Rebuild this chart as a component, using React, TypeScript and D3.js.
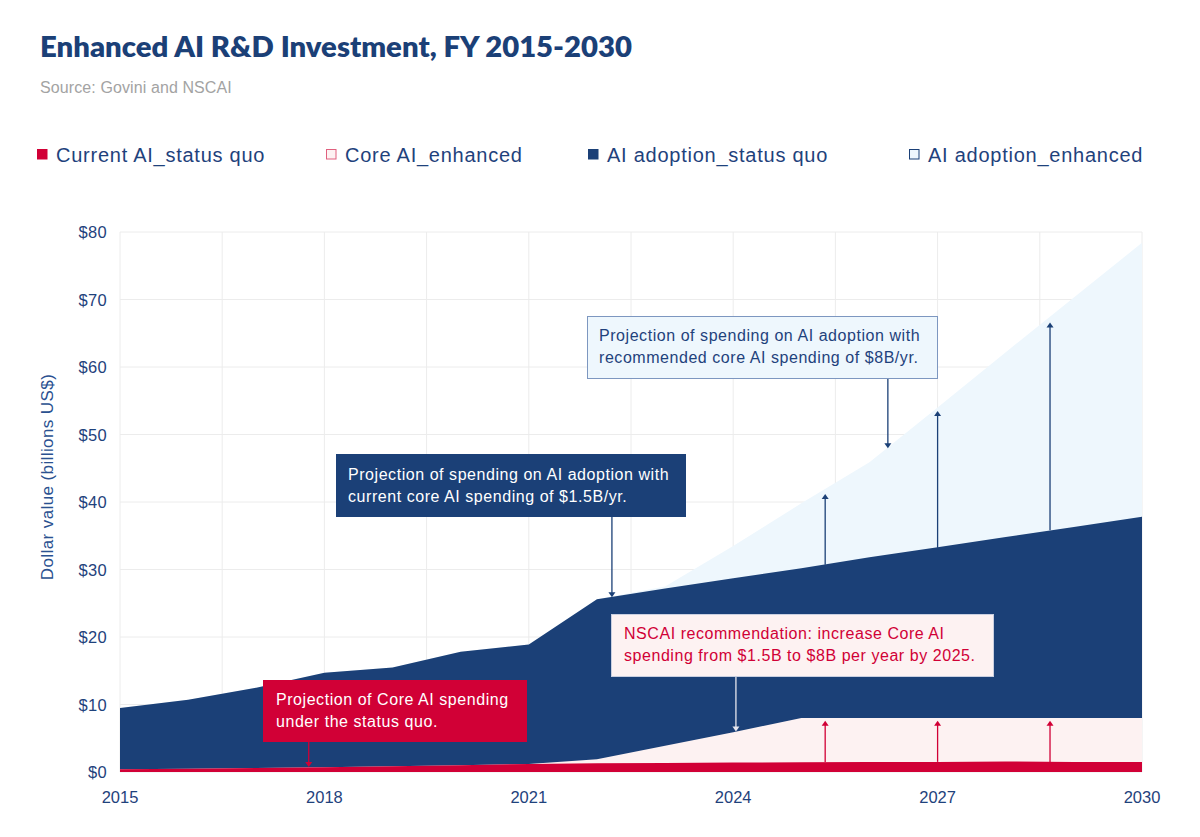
import React from "react";
import * as d3 from "d3";

const years = [2015, 2016, 2017, 2018, 2019, 2020, 2021, 2022, 2023, 2024, 2025, 2026, 2027, 2028, 2029, 2030];
const currentAIStatusQuo = [0.4, 0.5, 0.6, 0.7, 0.85, 1.0, 1.2, 1.3, 1.35, 1.4, 1.45, 1.5, 1.5, 1.55, 1.5, 1.5];
const coreAIEnhanced = [0.4, 0.5, 0.6, 0.7, 0.85, 1.0, 1.2, 1.9, 3.9, 5.9, 8, 8, 8, 8, 8, 8];
const aiAdoptionStatusQuo = [9.5, 10.7, 12.5, 14.7, 15.5, 17.8, 18.9, 25.6, 27.2, 28.7, 30.2, 31.8, 33.3, 34.8, 36.3, 37.8];
const aiAdoptionEnhanced = [9.5, 10.7, 12.5, 14.7, 15.5, 17.8, 18.9, 25.6, 27.5, 33.5, 39.8, 45.9, 54.0, 62.2, 70.3, 78.4];

const yTicks = [0, 10, 20, 30, 40, 50, 60, 70, 80];
const xTicks = [2015, 2018, 2021, 2024, 2027, 2030];
const xGrid = [2015, 2016.5, 2018, 2019.5, 2021, 2022.5, 2024, 2025.5, 2027, 2028.5, 2030];

const legendLabels = ["Current AI_status quo", "Core AI_enhanced", "AI adoption_status quo", "AI adoption_enhanced"];

// arrows showing the gap (years, from, to)
const gapArrowYears = [2025.35, 2027, 2028.65];
const adoptionGapFrom = [30.7, 33.2, 35.8];
const adoptionGapTo = [41.2, 53.5, 66.6];
const coreGapFrom = [1.5, 1.5, 1.5];
const coreGapTo = [7.6, 7.6, 7.6];

const DARK = "#1b4077";
const RED = "#d10036";
const PINK = "#fdf2f2";
const LIGHT = "#eef7fd";
const TEXT = "#1f427c";
const GRID = "#ececec";

const FONT = "'Liberation Sans', Arial, sans-serif";

export default function App() {
  const x = d3.scaleLinear().domain([2015, 2030]).range([120, 1142]);
  const y = d3.scaleLinear().domain([0, 80]).range([772, 232]);

  const mk = (vals: number[]) =>
    d3
      .area<number>()
      .x((_, i) => x(years[i]))
      .y0(y(0))
      .y1((d) => y(d))
      .curve(d3.curveLinear)(vals) as string;

  const arrowHead = (cx: number, cy: number, dir: "up" | "down", color: string, key: string) => {
    const s = dir === "up" ? 1 : -1;
    return (
      <path
        key={key}
        d={`M${cx - 3.5},${cy + 5 * s} L${cx},${cy} L${cx + 3.5},${cy + 5 * s} Z`}
        fill={color}
      />
    );
  };

  const vArrow = (xv: number, y1: number, y2: number, color: string, key: string, width = 1.3) => {
    const dir = y2 < y1 ? "up" : "down";
    return (
      <g key={key}>
        <line x1={xv} x2={xv} y1={y1} y2={dir === "up" ? y2 + 3 : y2 - 3} stroke={color} strokeWidth={width} />
        {arrowHead(xv, y2, dir, color, key + "h")}
      </g>
    );
  };

  const legendX = [37, 326, 588, 909];
  const legendFill = [RED, PINK, DARK, LIGHT];
  const legendStroke = [RED, "#e0607e", DARK, DARK];

  const annoSize = 16;
  const annoSpacing = 0.55;

  return (
    <svg
      width={1200}
      height={837}
      style={{ position: "absolute", left: 0, top: 0, background: "#fff" }}
      fontFamily={FONT}
    >
      <rect x={0} y={0} width={1200} height={837} fill="#fff" />
      <text
        x={40}
        y={57}
        fill={DARK}
        fontFamily="Lato, 'Open Sans', sans-serif"
        fontWeight={800}
        fontSize={29}
        textLength={592}
        lengthAdjust="spacingAndGlyphs"
      >
        Enhanced AI R&amp;D Investment, FY 2015-2030
      </text>
      <text x={40} y={93} fill="#a3a3a3" fontSize={16} letterSpacing={0.1}>
        Source: Govini and NSCAI
      </text>

      {legendLabels.map((l, i) => (
        <g key={l}>
          <rect
            x={legendX[i] + 0.5}
            y={149.5}
            width={9.5}
            height={9.5}
            fill={legendFill[i]}
            stroke={legendStroke[i]}
            strokeWidth={1}
          />
          <text x={legendX[i] + 19} y={161.5} fill={TEXT} fontSize={20} letterSpacing={0.75}>
            {l}
          </text>
        </g>
      ))}

      {/* grid */}
      {yTicks.map((t) => (
        <line key={"gy" + t} x1={x(2015)} x2={x(2030)} y1={y(t)} y2={y(t)} stroke={GRID} strokeWidth={1} />
      ))}
      {xGrid.map((t) => (
        <line key={"gx" + t} x1={x(t)} x2={x(t)} y1={y(80)} y2={y(0)} stroke={GRID} strokeWidth={1} />
      ))}

      {/* areas */}
      <path d={mk(aiAdoptionEnhanced)} fill={LIGHT} />
      <path d={mk(aiAdoptionStatusQuo)} fill={DARK} />
      <path d={mk(coreAIEnhanced)} fill={PINK} />
      <path d={mk(currentAIStatusQuo)} fill={RED} />

      {/* gap arrows */}
      {gapArrowYears.map((yr, i) =>
        vArrow(x(yr), y(adoptionGapFrom[i]), y(adoptionGapTo[i]), DARK, "ga" + i)
      )}
      {gapArrowYears.map((yr, i) => vArrow(x(yr), y(coreGapFrom[i]), y(coreGapTo[i]), RED, "gc" + i))}

      {/* y axis labels */}
      {yTicks.map((t) => (
        <text key={"yl" + t} x={107} y={y(t) + 6} textAnchor="end" fill={TEXT} fontSize={16.5} letterSpacing={0.3}>
          {"$" + t}
        </text>
      ))}
      <text
        transform={`translate(53,${477}) rotate(-90)`}
        textAnchor="middle"
        fill={"#2a5190"}
        fontSize={17}
        letterSpacing={0.4}
      >
        Dollar value (billions US$)
      </text>
      {xTicks.map((t) => (
        <text key={"xl" + t} x={x(t)} y={803} textAnchor="middle" fill={TEXT} fontSize={16.5}>
          {t}
        </text>
      ))}

      {/* annotation: light blue */}
      <rect x={587.5} y={316.5} width={350} height={62} fill={LIGHT} stroke="#7d97c0" strokeWidth={1} />
      <text x={599} y={340.5} fill={TEXT} fontSize={annoSize} letterSpacing={annoSpacing}>
        <tspan x={599}>Projection of spending on AI adoption with</tspan>
        <tspan x={599} y={362.5}>recommended core AI spending of $8B/yr.</tspan>
      </text>
      {vArrow(x(2026.27), 379, y(48.1) + 1, DARK, "a2")}

      {/* annotation: dark blue */}
      <rect x={336} y={454} width={350} height={63} fill={DARK} />
      <text x={348} y={479.5} fill="#fff" fontSize={annoSize} letterSpacing={annoSpacing}>
        <tspan x={348}>Projection of spending on AI adoption with</tspan>
        <tspan x={348} y={501.5}>current core AI spending of $1.5B/yr.</tspan>
      </text>
      {vArrow(x(2022.22), 517, y(25.9), DARK, "a1")}

      {/* annotation: pink */}
      <rect x={611.5} y={614.5} width={382} height={62} fill={PINK} stroke="#c9cfe0" strokeWidth={1} />
      <text x={624} y={638.5} fill={RED} fontSize={annoSize} letterSpacing={annoSpacing}>
        <tspan x={624}>NSCAI recommendation: increase Core AI</tspan>
        <tspan x={624} y={660.5}>spending from $1.5B to $8B per year by 2025.</tspan>
      </text>
      {vArrow(x(2024.04), 677, y(6.0), "#e6e6ee", "a4")}

      {/* annotation: red */}
      <rect x={263} y={680} width={264} height={62} fill={RED} />
      <text x={276} y={704.5} fill="#fff" fontSize={annoSize} letterSpacing={annoSpacing}>
        <tspan x={276}>Projection of Core AI spending</tspan>
        <tspan x={276} y={726.5}>under the status quo.</tspan>
      </text>
      {vArrow(x(2017.77), 742, y(0.75), RED, "a3")}
    </svg>
  );
}
